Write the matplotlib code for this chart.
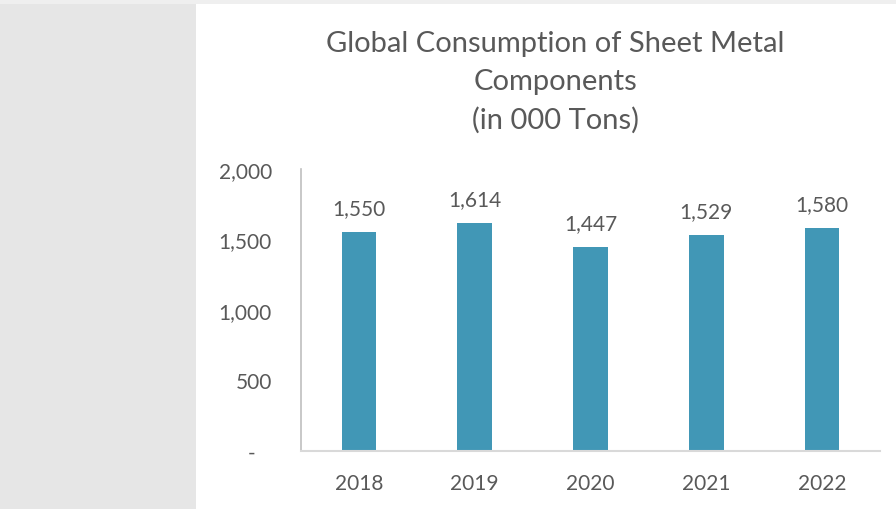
import matplotlib
matplotlib.use('Agg')
import matplotlib.pyplot as plt
from matplotlib.patches import Rectangle

# chart data
years = ['2018', '2019', '2020', '2021', '2022']
consumption = [1550, 1614, 1447, 1529, 1580]
y_ticks = [0, 500, 1000, 1500, 2000]

title = 'Global Consumption of Sheet Metal\nComponents\n(in 000 Tons)'
text_color = '#595959'
bar_color = '#4197b6'

plt.rcParams['font.family'] = ['Lato', 'DejaVu Sans']

fig = plt.figure(figsize=(8.96, 5.10), dpi=100)
fig.patch.set_facecolor('white')

# grey side panel and thin top strip
fig.add_artist(Rectangle((0, 0), 196 / 896, 1, transform=fig.transFigure,
                         facecolor='#e6e6e6', edgecolor='none', zorder=0))
fig.add_artist(Rectangle((0, 1 - 5 / 510), 1, 5 / 510, transform=fig.transFigure,
                         facecolor='#efefef', edgecolor='none', zorder=0))

ax = fig.add_axes([301 / 896, 58 / 510, 579 / 896, 282 / 510])
x = range(len(years))
bars = ax.bar(x, consumption, width=0.3, color=bar_color, zorder=2)

ax.set_xlim(-0.5, len(years) - 0.5)
ax.set_ylim(0, 2000)
ax.set_xticks(list(x))
ax.set_xticklabels(years)
ax.set_yticks(y_ticks)
ax.set_yticklabels(['-   ' if v == 0 else f'{v:,}' for v in y_ticks])
ax.tick_params(axis='both', length=0, labelsize=15, colors=text_color)
ax.tick_params(axis='y', pad=21)
ax.tick_params(axis='x', pad=16)

for side in ['top', 'right']:
  ax.spines[side].set_visible(False)
ax.spines['left'].set_color('#bfbfbf')
ax.spines['bottom'].set_color('#d9d9d9')
ax.spines['left'].set_linewidth(1.2)
ax.spines['bottom'].set_linewidth(1.5)

for xi, v in zip(x, consumption):
  ax.annotate(f'{v:,}', (xi, v), xytext=(0, 10), textcoords='offset points',
              ha='center', va='bottom', fontsize=15, color=text_color)

fig.text(555 / 896, 1 - 31 / 510, title, ha='center', va='top',
         fontsize=21, color=text_color, linespacing=1.55)

fig.savefig('out.png', dpi=100)
